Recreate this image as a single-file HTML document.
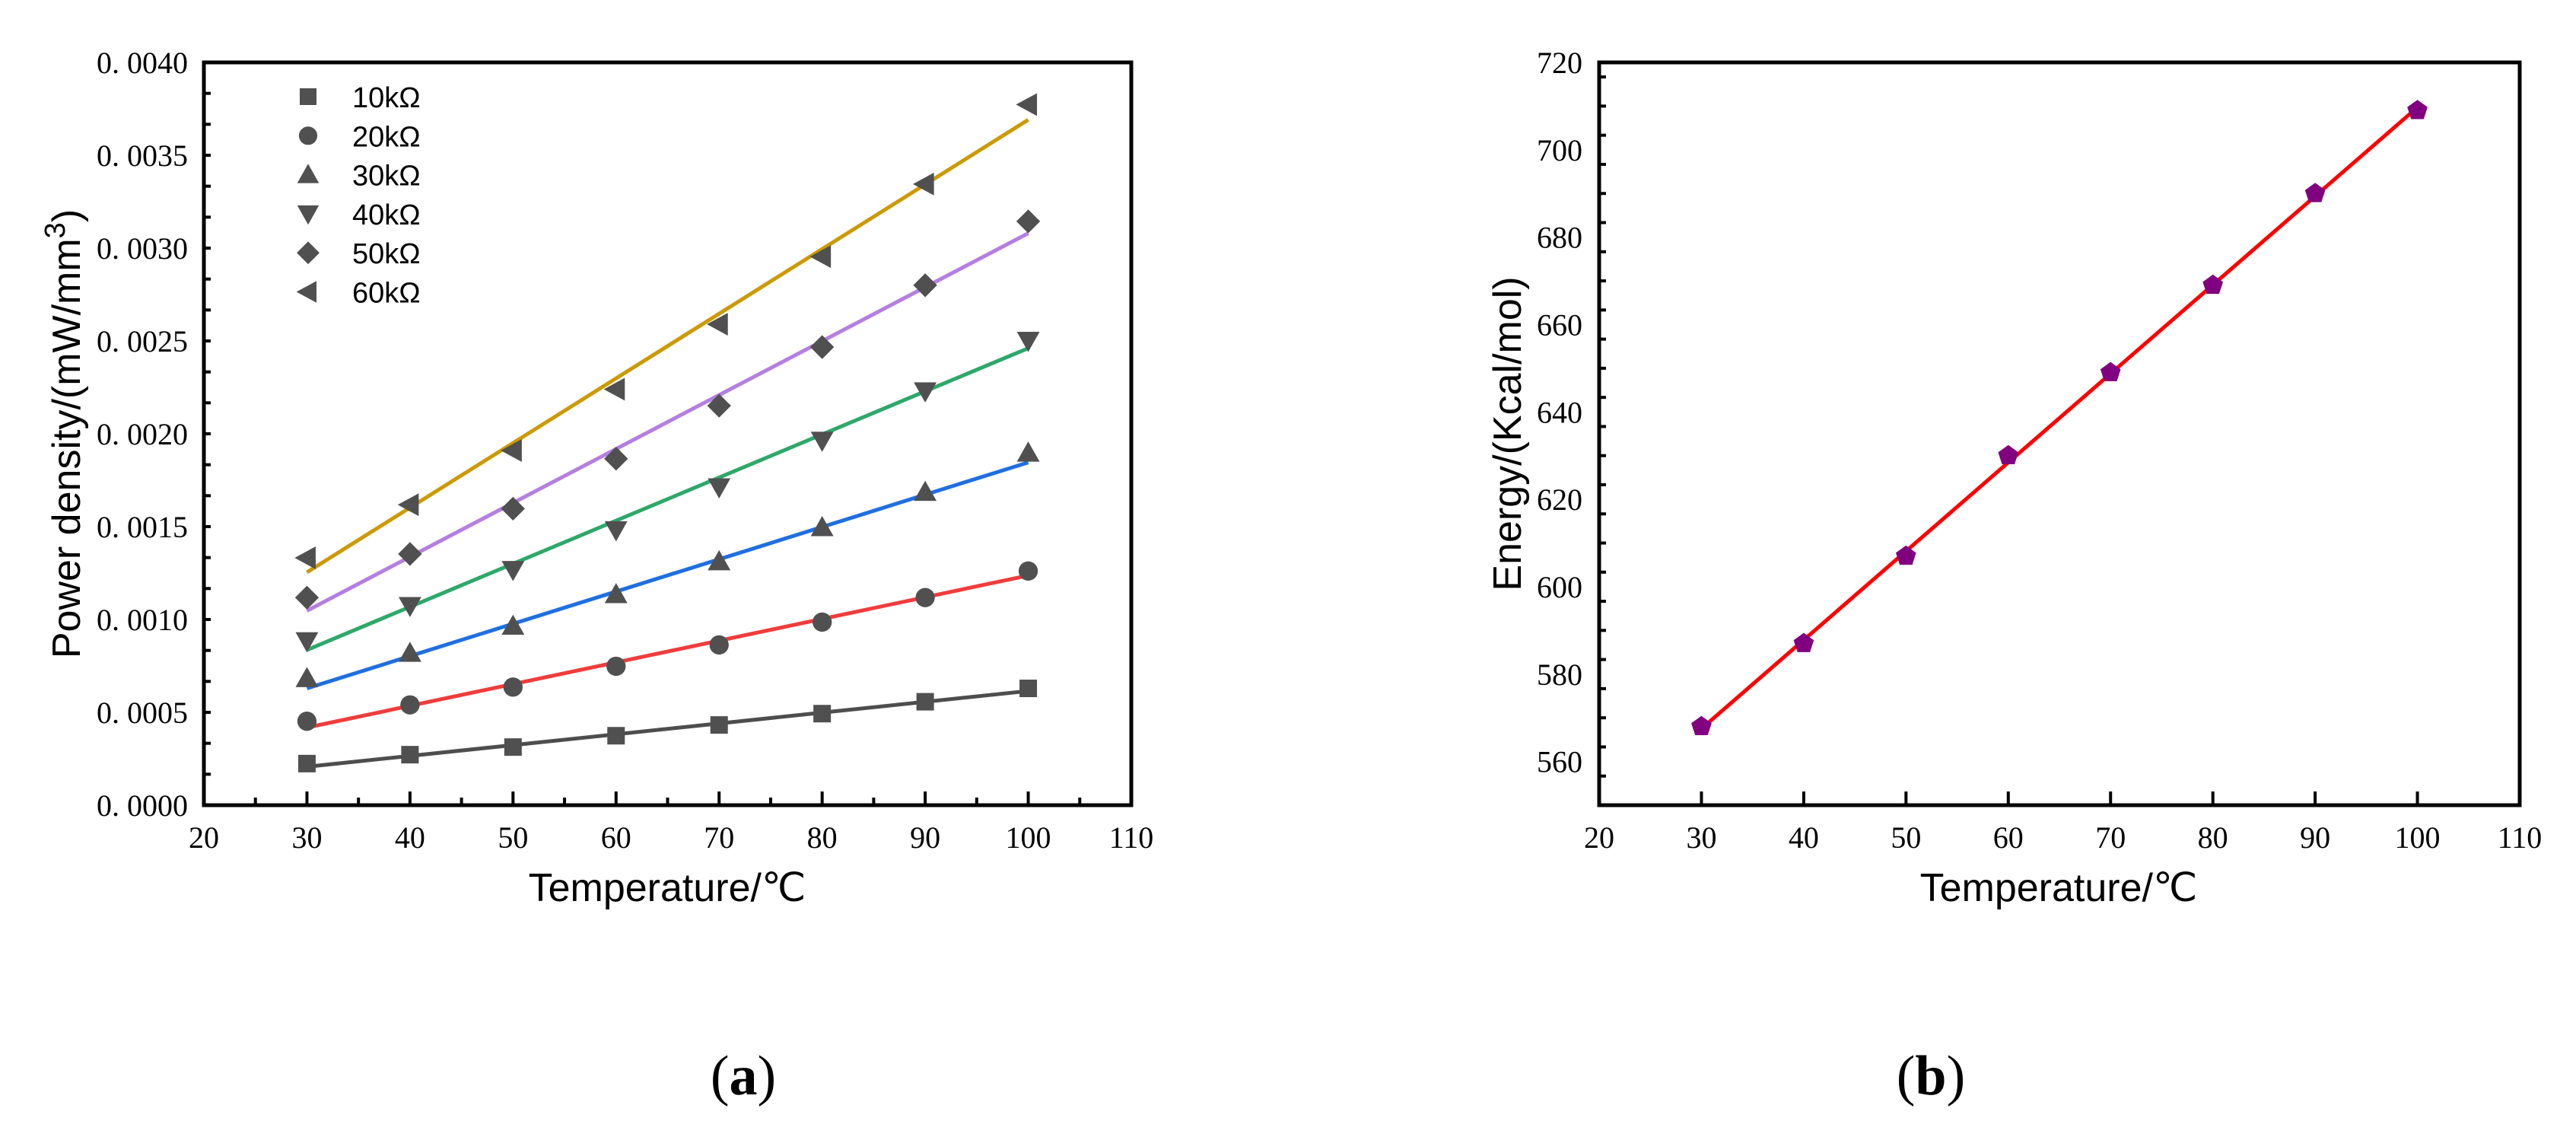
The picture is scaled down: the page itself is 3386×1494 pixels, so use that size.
<!DOCTYPE html>
<html><head><meta charset="utf-8"><style>
html,body{margin:0;padding:0;background:#fff;}
svg{display:block;}
.tick{font-family:"Liberation Serif",serif;font-size:40px;fill:#000;}
.ttl{font-family:"Liberation Sans",sans-serif;font-size:52px;fill:#000;}
.leg{font-family:"Liberation Sans",sans-serif;font-size:38px;fill:#000;}
.cap{font-family:"Liberation Serif",serif;font-size:74px;fill:#000;}
</style></head><body>
<svg id="fig" width="3386" height="1494" viewBox="0 0 3386 1494" xmlns="http://www.w3.org/2000/svg">
<g id="chartA"></g>
<g id="chartB"></g>
<text class="cap" x="977" y="1438" text-anchor="middle">(<tspan font-weight="bold">a</tspan>)</text>
<text class="cap" x="2538" y="1438" text-anchor="middle">(<tspan font-weight="bold">b</tspan>)</text>
</svg>
<script>
// ---- data ----
const temps = [30,40,50,60,70,80,90,100];
const xTicks = [20,30,40,50,60,70,80,90,100,110];
const seriesNames = ['10kΩ','20kΩ','30kΩ','40kΩ','50kΩ','60kΩ'];
const p10 = [0.000224,0.000272,0.000313,0.000374,0.000432,0.000493,0.000557,0.000629];
const p20 = [0.000452,0.000540,0.000636,0.000748,0.000863,0.000986,0.001118,0.001261];
const p30 = [0.000683,0.000819,0.000965,0.001135,0.001312,0.001496,0.001686,0.001897];
const p40 = [0.000884,0.001074,0.001268,0.001482,0.001713,0.001964,0.002230,0.002502];
const p50 = [0.001118,0.001353,0.001597,0.001866,0.002151,0.002467,0.002800,0.003144];
const p60 = [0.001332,0.001618,0.001910,0.002240,0.002590,0.002954,0.003345,0.003773];
const fitStart = [0.000207,0.000418,0.000629,0.000836,0.001047,0.001254];
const fitEnd = [0.000615,0.001237,0.001846,0.002461,0.003080,0.003691];
const yTicksA = [0,0.0005,0.001,0.0015,0.002,0.0025,0.003,0.0035,0.004];
const yLabelsA = ['0.0000','0.0005','0.0010','0.0015','0.0020','0.0025','0.0030','0.0035','0.0040'];
const energy = [568,587,607,630,649,669,690,709];
const energyFit = [567.5,709.7];
const yTicksB = [560,580,600,620,640,660,680,700,720];

const NS='http://www.w3.org/2000/svg';
function mk(parent,tag,attrs){const e=document.createElementNS(NS,tag);for(const k in attrs)e.setAttribute(k,attrs[k]);parent.appendChild(e);return e;}

function axes(g,X0,X1,Y0,Y1,xmin,xmax,ymin,ymax){
  const sx=v=>X0+(v-xmin)/(xmax-xmin)*(X1-X0);
  const sy=v=>Y1-(v-ymin)/(ymax-ymin)*(Y1-Y0);
  return {sx,sy};
}

// ---- Chart A ----
(function(){
  const g=document.getElementById('chartA');
  const X0=268,X1=1487,Y0=82,Y1=1058;
  const {sx,sy}=axes(g,X0,X1,Y0,Y1,20,110,0,0.004);
  const colors=['#4d4d4d','#f03c3c','#1f6fe0','#2ea86a','#b57ee0','#cc9a06'];
  const data=[p10,p20,p30,p40,p50,p60];
  const mc='#505050';
  // fit lines
  for(let i=0;i<6;i++){
    const l=mk(g,'line',{x1:sx(30),y1:sy(fitStart[i]),x2:sx(100),y2:sy(fitEnd[i]),stroke:colors[i],'stroke-width':5});
    
    
  }
  function marker(i,cx,cy,s){
    let e;
    if(i===0) e=mk(g,'rect',{x:cx-s*0.5,y:cy-s*0.5,width:s,height:s,fill:mc});
    else if(i===1) e=mk(g,'circle',{cx:cx,cy:cy,r:s*0.55,fill:mc});
    else if(i===2) e=mk(g,'polygon',{points:`${cx},${cy-s*0.65} ${cx-s*0.65},${cy+s*0.5} ${cx+s*0.65},${cy+s*0.5}`,fill:mc});
    else if(i===3) e=mk(g,'polygon',{points:`${cx},${cy+s*0.65} ${cx-s*0.65},${cy-s*0.5} ${cx+s*0.65},${cy-s*0.5}`,fill:mc});
    else if(i===4) e=mk(g,'polygon',{points:`${cx},${cy-s*0.68} ${cx+s*0.68},${cy} ${cx},${cy+s*0.68} ${cx-s*0.68},${cy}`,fill:mc});
    else e=mk(g,'polygon',{points:`${cx-s*0.7},${cy} ${cx+s*0.5},${cy-s*0.65} ${cx+s*0.5},${cy+s*0.65}`,fill:mc});
    return e;
  }
  for(let i=0;i<6;i++){
    for(let j=0;j<temps.length;j++){
      const m=marker(i,sx(temps[j]),sy(data[i][j]),23);
      
      
    }
  }
  // frame
  const f=mk(g,'rect',{x:X0,y:Y0,width:X1-X0,height:Y1-Y0,fill:'none',stroke:'#000','stroke-width':5});
  
  
  // x ticks
  for(let v=25;v<110;v+=5){
    const major=(v%10===0);
    mk(g,'line',{x1:sx(v),y1:Y1,x2:sx(v),y2:Y1-(major?18:10),stroke:'#000','stroke-width':4});
  }
  xTicks.forEach(v=>{
    const t=mk(g,'text',{class:'tick',x:sx(v),y:1114,'text-anchor':'middle'});
    t.textContent=v;
    
    
  });
  // y ticks (thirds)
  for(let k=1;k<24;k++){
    const y=Y1-k*(Y1-Y0)/24;
    mk(g,'line',{x1:X0,y1:y,x2:X0+9,y2:y,stroke:'#000','stroke-width':4});
  }
  yTicksA.forEach((v,i)=>{
    const t=mk(g,'text',{class:'tick',x:247,y:sy(v)+14,'text-anchor':'end'});
    t.textContent=yLabelsA[i].replace('.','. ');
    
    
  });
  const xt=mk(g,'text',{class:'ttl',x:877,y:1184,'text-anchor':'middle'});
  xt.textContent='Temperature/℃';
  
  
  const yt=mk(g,'text',{class:'ttl',transform:'translate(105,570) rotate(-90)','text-anchor':'middle'});
  yt.innerHTML='Power density/(mW/mm<tspan dy="-20" font-size="38">3</tspan><tspan dy="20">)</tspan>';
  
  
  // legend
  const lg=mk(g,'g',{});
  
  
  seriesNames.forEach((n,i)=>{
    const cy=127+i*51.3;
    const m=marker(i,405,cy,22);
    
    
    const t=mk(g,'text',{class:'leg',x:463,y:cy+14});
    t.textContent=n;
    
    
  });
})();

// ---- Chart B ----
(function(){
  const g=document.getElementById('chartB');
  const X0=2102,X1=3312,Y0=82,Y1=1058;
  const {sx,sy}=axes(g,X0,X1,Y0,Y1,20,110,550,720);
  const l=mk(g,'line',{x1:sx(30),y1:sy(energyFit[0]),x2:sx(100),y2:sy(energyFit[1]),stroke:'#ff0000','stroke-width':5});
  
  
  temps.forEach((t,j)=>{
    const cx=sx(t),cy=sy(energy[j]),r=14;
    let pts=[];
    for(let k=0;k<5;k++){const a=-Math.PI/2+k*2*Math.PI/5;pts.push((cx+r*Math.cos(a)).toFixed(1)+','+(cy+r*Math.sin(a)).toFixed(1));}
    const p=mk(g,'polygon',{points:pts.join(' '),fill:'#800080'});
    
    
  });
  const f=mk(g,'rect',{x:X0,y:Y0,width:X1-X0,height:Y1-Y0,fill:'none',stroke:'#000','stroke-width':5});
  
  
  for(let v=30;v<110;v+=10){
    mk(g,'line',{x1:sx(v),y1:Y1,x2:sx(v),y2:Y1-18,stroke:'#000','stroke-width':4});
  }
  xTicks.forEach(v=>{
    const t=mk(g,'text',{class:'tick',x:sx(v),y:1114,'text-anchor':'middle'});
    t.textContent=v;
    
    
  });
  for(let k=1;k<25.5;k++){
    const v=550+k*20/3;
    if(v>=720) break;
    mk(g,'line',{x1:X0,y1:sy(v),x2:X0+9,y2:sy(v),stroke:'#000','stroke-width':4});
  }
  yTicksB.forEach(v=>{
    const t=mk(g,'text',{class:'tick',x:2080,y:sy(v)+14,'text-anchor':'end'});
    t.textContent=v;
    
    
  });
  const xt=mk(g,'text',{class:'ttl',x:2706,y:1184,'text-anchor':'middle'});
  xt.textContent='Temperature/℃';
  
  
  const yt=mk(g,'text',{class:'ttl',transform:'translate(1999,570) rotate(-90)','text-anchor':'middle'});
  yt.textContent='Energy/(Kcal/mol)';
  
  
})();
</script>
</body></html>
